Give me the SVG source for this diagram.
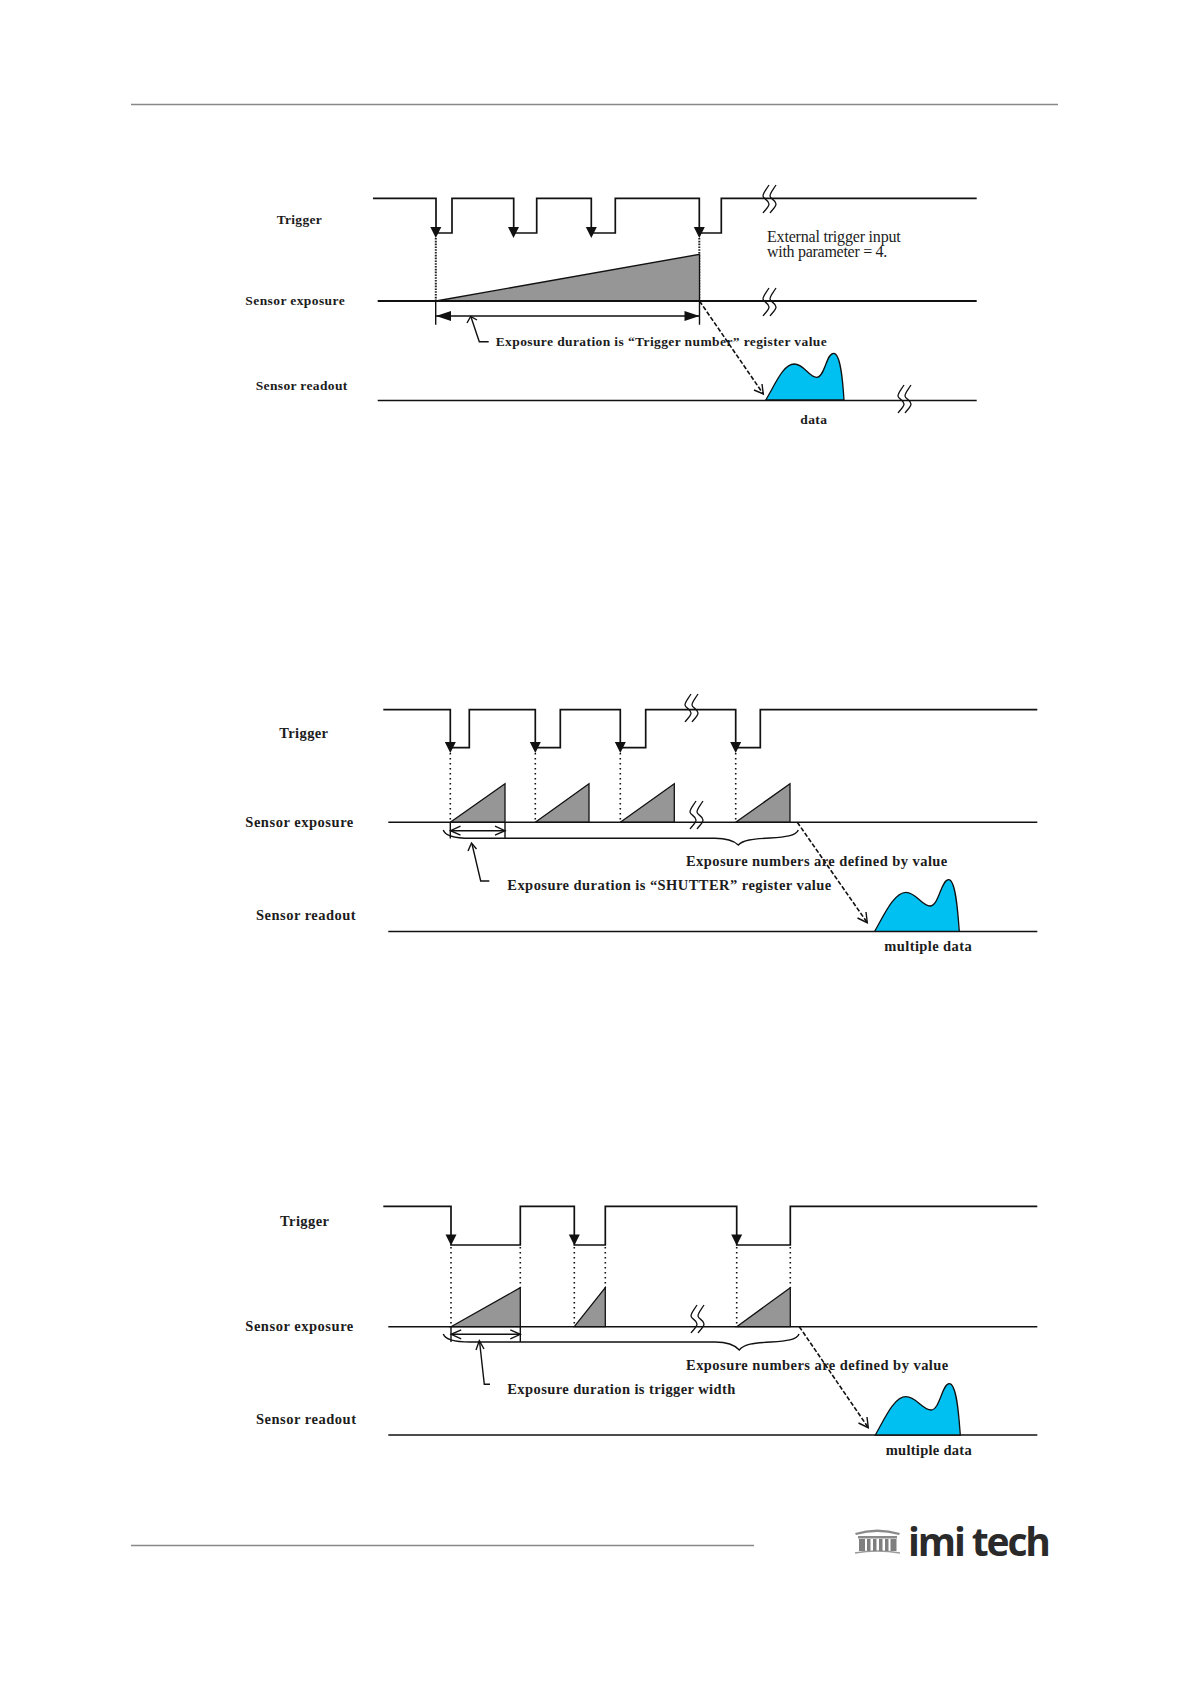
<svg xmlns="http://www.w3.org/2000/svg" xmlns:xlink="http://www.w3.org/1999/xlink" width="1191" height="1684" viewBox="0 0 1191 1684">
<style>
text{font-family:"Liberation Serif","Times New Roman",serif;fill:#1c1c1c}
.b{font-weight:bold;font-size:13.5px}
.c{font-weight:bold;font-size:14.5px}
.r{font-size:16px}
.s{fill:none;stroke:#111;stroke-width:1.7}
.t{fill:none;stroke:#111;stroke-width:1.4}
.w{fill:#969696;stroke:#111;stroke-width:1.3}
.d{fill:none;stroke:#111;stroke-width:1.6;stroke-dasharray:1.6 3.4}
.d1{fill:none;stroke:#222;stroke-width:2;stroke-dasharray:1.6 1.2}
.da{fill:none;stroke:#111;stroke-width:1.6;stroke-dasharray:4.5 2}
.blob{fill:#00c0f2;stroke:#111;stroke-width:1.3}
.h{fill:#111}
.brk{fill:none;stroke:#111;stroke-width:1.3}
.pg{stroke:#888;stroke-width:1.3}
</style>
<defs>
<g id="break"><path class="brk" d="M0,-14C-3,-9 -6,-6 -6,-3C-6,0 0,1 0,5C0,8 -4,11 -6,14"/><path class="brk" d="M7,-14C4,-9 1,-6 1,-3C1,0 7,1 7,5C7,8 3,11 1,14"/></g>
<path id="ah" class="h" d="M-5.500,-11L5.500,-11L0,0Z"/>
<path id="open" class="t" d="M10,-4.500L0,0L10,4.500"/>
</defs>
<g id="page">
<line class="pg" x1="131" y1="104.500" x2="1058" y2="104.500"/>
<line class="pg" x1="131" y1="1545.500" x2="754" y2="1545.500"/>
</g>

<g id="d1-connectors">
<path class="s" d="M373,198.300H436V233H452V198.300H513.700V233H536.700V198.300H591.300V233H615.300V198.300H699.300V233H721.300V198.300H976.700"/>
<path class="d1" d="M435.800,238V301"/><path class="d1" d="M699.300,238V301"/>
</g>
<g id="d1-wedge"><path class="w" d="M436,301L699.500,254.300V301Z"/></g>
<g id="d1-lines">
<line x1="377.700" y1="301" x2="976.700" y2="301" stroke="#111" stroke-width="2.2"/>
<line x1="377.700" y1="400.500" x2="976.700" y2="400.500" stroke="#111" stroke-width="1.4"/>
<path class="blob" d="M765.700,400C775,385 783,364 794.300,364C804,364 809,377.300 816.700,377.300C825,377.300 826,353.300 833.700,353.300C841,353.300 843,385 844,400Z"/>
<use xlink:href="#ah" href="#ah" x="435.800" y="238"/><use xlink:href="#ah" href="#ah" x="513.500" y="238"/><use xlink:href="#ah" href="#ah" x="591.300" y="238"/><use xlink:href="#ah" href="#ah" x="699.300" y="238"/>
<use xlink:href="#break" href="#break" x="769" y="199"/><use xlink:href="#break" href="#break" x="769" y="302"/><use xlink:href="#break" href="#break" x="904" y="399"/>
<path class="t" d="M435.700,301V324.700M699.500,301V324.700M436,316H699"/>
<path class="h" d="M436,316L451,311V321ZM699.500,316L684.500,311V321Z"/>
<path class="t" d="M488.700,341.700H479.300L471,317"/><path class="t" d="M467,323L470.700,316.500L477,320"/>
<path class="da" d="M699.500,301L763.300,394"/><path class="t" d="M754,390L763.300,394L762,384"/>
</g>
<g id="d1-text">
<text class="b" x="276.700" y="224" textLength="45">Trigger</text>
<text class="b" x="245.300" y="305" textLength="99.400">Sensor exposure</text>
<text class="b" x="255.700" y="390" textLength="91.600">Sensor readout</text>
<text class="b" x="495.700" y="346" textLength="331">Exposure duration is “Trigger number” register value</text>
<text class="b" x="800.300" y="424.300" textLength="26.700">data</text>
<text class="r" x="767" y="242.200" textLength="133.700">External trigger input</text>
<text class="r" x="767" y="257.200" textLength="120.300">with parameter = 4.</text>
</g>

<g id="d2-connectors">
<path class="s" d="M383.300,709.700H450.300V747.700H469.300V709.700H535.300V747.700H560.300V709.700H620.300V747.700H645.700V709.700H735.700V747.700H760.300V709.700H1037.300"/>
<path class="d" d="M450.300,753V822M535.300,753V822M620.300,753V822M735.700,753V822"/>
</g>
<g id="d2-wedges">
<path class="w" d="M450.300,822.300L505,783.700V822.300Z"/><path class="w" d="M535.300,822.300L589,783.700V822.300Z"/><path class="w" d="M620.300,822.300L674.300,783.700V822.300Z"/><path class="w" d="M735.700,822.300L790,783.700V822.300Z"/>
</g>
<g id="d2-lines">
<line x1="388.300" y1="822.300" x2="1037.300" y2="822.300" stroke="#111" stroke-width="1.4"/>
<line x1="388.300" y1="931.500" x2="1037.300" y2="931.500" stroke="#111" stroke-width="1.4"/>
<path class="blob" d="M874.700,931.300C884,915 894,892.300 906,892.300C916,892.300 922,906 930,906C939,906 941,879.700 948.700,879.700C956,879.700 958,915 959.300,931.300Z"/>
<use xlink:href="#ah" href="#ah" x="450.300" y="753"/><use xlink:href="#ah" href="#ah" x="535.300" y="753"/><use xlink:href="#ah" href="#ah" x="620.300" y="753"/><use xlink:href="#ah" href="#ah" x="735.700" y="753"/>
<use xlink:href="#break" href="#break" x="691" y="708"/><use xlink:href="#break" href="#break" x="696" y="815"/>
<path class="t" d="M450.300,822V838.500M505,822V838.300M450.300,830.700H505"/>
<use xlink:href="#open" href="#open" x="450.500" y="830.700"/><use xlink:href="#open" href="#open" transform="translate(505,830.700) scale(-1,1)"/>
<path class="t" d="M443.300,830C445,836 455,838.300 470,838.300H715C725,838.300 733,840 738.300,845C743,840 752,839 770,838C785,837 796,836 798.300,830"/>
<path class="t" d="M489.300,881H480.700L472,844"/><path class="t" d="M468,851L471.500,843L476.500,849"/>
<path class="da" d="M797.300,822.300L867.300,922.700"/><path class="t" d="M857.500,918L867.300,922.700L866,912"/>
</g>
<g id="d2-text">
<text class="c" x="279.300" y="738" textLength="48.700">Trigger</text>
<text class="c" x="245.300" y="827.300" textLength="108">Sensor exposure</text>
<text class="c" x="256" y="920" textLength="99.700">Sensor readout</text>
<text class="c" x="507.300" y="890" textLength="324">Exposure duration is “SHUTTER” register value</text>
<text class="c" x="686" y="866" textLength="261.300">Exposure numbers are defined by value</text>
<text class="c" x="884.300" y="951" textLength="87.400">multiple data</text>
</g>

<g id="d3-connectors">
<path class="s" d="M383.300,1206.300H451V1245H520.300V1206.300H574.300V1245H605.300V1206.300H736.700V1245H790.300V1206.300H1037.300"/>
<path class="d" d="M451,1247V1326M520.300,1247V1288M574.300,1247V1326M605.300,1247V1288M736.700,1247V1326M790.300,1247V1288"/>
</g>
<g id="d3-wedges">
<path class="w" d="M451,1326.700L520.300,1287.700V1326.700Z"/><path class="w" d="M574.300,1326.700L605.300,1287.700V1326.700Z"/><path class="w" d="M736.700,1326.700L790.300,1287.700V1326.700Z"/>
</g>
<g id="d3-lines">
<line x1="388.300" y1="1326.700" x2="1037.300" y2="1326.700" stroke="#111" stroke-width="1.600"/>
<line x1="388.300" y1="1435" x2="1037.300" y2="1435" stroke="#111" stroke-width="1.600"/>
<path class="blob" d="M875.300,1435C885,1418 894,1396.700 906,1396.700C916,1396.700 923,1410 931,1410C940,1410 942,1383.700 949.300,1383.700C957,1383.700 959,1418 960.300,1435Z"/>
<use xlink:href="#ah" href="#ah" x="451" y="1245.500"/><use xlink:href="#ah" href="#ah" x="574.300" y="1245.500"/><use xlink:href="#ah" href="#ah" x="736.700" y="1245.500"/>
<use xlink:href="#break" href="#break" x="697" y="1319"/>
<path class="t" d="M451,1326V1342M520.300,1326V1342M451,1334.300H520.300"/>
<use xlink:href="#open" href="#open" x="451.200" y="1334.300"/><use xlink:href="#open" href="#open" transform="translate(520.300,1334.300) scale(-1,1)"/>
<path class="t" d="M443.300,1334C445,1339 455,1342 470,1342H715C726,1342 734,1344 739.300,1350C744,1344 753,1343 771,1342C786,1341 797,1340 799,1334"/>
<path class="t" d="M490,1384.300H484.300L479.500,1341"/><path class="t" d="M476,1350L479.300,1340.700L484,1349"/>
<path class="da" d="M799.300,1326.700L868.300,1427.700"/><path class="t" d="M858.500,1423L868.300,1427.700L867,1417"/>
</g>
<g id="d3-text">
<text class="c" x="280" y="1225.700" textLength="49">Trigger</text>
<text class="c" x="245.300" y="1331" textLength="108">Sensor exposure</text>
<text class="c" x="256" y="1424.300" textLength="100">Sensor readout</text>
<text class="c" x="507.300" y="1394" textLength="228">Exposure duration is trigger width</text>
<text class="c" x="686" y="1370" textLength="262.300">Exposure numbers are defined by value</text>
<text class="c" x="885.700" y="1455" textLength="86">multiple data</text>
</g>

<g id="logo">
<path d="M855,1533Q877,1526 900,1533L899,1535Q877,1529 856,1535Z" fill="#8a8a8a"/>
<path d="M855,1553Q877,1549 900,1553" fill="none" stroke="#9a9a9a" stroke-width="1.500"/>
<rect x="858" y="1536" width="39" height="2.500" fill="#8a8a8a"/>
<g fill="#7f7f7f"><rect x="859" y="1539" width="6" height="12"/><rect x="867" y="1539" width="3.500" height="12"/><rect x="873" y="1539" width="3.500" height="12"/><rect x="879" y="1539" width="3.500" height="12"/><rect x="885" y="1539" width="3.500" height="12"/><rect x="890.500" y="1539" width="6" height="12"/></g>
<text x="908" y="1556" textLength="143" style="font-family:'Open Sans','Liberation Sans',sans-serif;font-size:39px;font-weight:700;fill:#2a2a2a">imi tech</text>
</g>
</svg>
